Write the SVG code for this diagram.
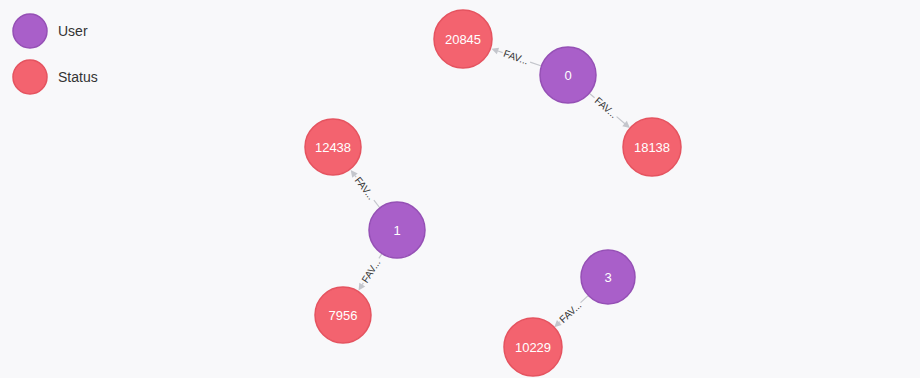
<svg xmlns="http://www.w3.org/2000/svg" width="920" height="378" viewBox="0 0 920 378">
  <style>
    .user { fill: #a95fc9; stroke: #9550b5; stroke-width: 1.5; }
    .status { fill: #f3636f; stroke: #e5535f; stroke-width: 1.5; }
    .nlabel { font-family: "Liberation Sans", Arial, sans-serif; font-size: 13px; fill: #ffffff; text-anchor: middle; dominant-baseline: central; }
    .legend { font-family: "Liberation Sans", Arial, sans-serif; font-size: 14px; fill: #333333; dominant-baseline: central; }
    .edge { stroke: #c4c6cc; stroke-width: 1.2; fill: none; }
    .head { fill: #c4c6cc; }
    .elabel { font-family: "Liberation Sans", Arial, sans-serif; font-size: 10px; fill: #333333; text-anchor: middle; dominant-baseline: central; }
  </style>
  <rect width="920" height="378" fill="#f8f8fa"/>

  <!-- legend -->
  <g id="legend">
    <circle class="user" cx="30" cy="31" r="17"/>
    <text class="legend" x="58" y="31">User</text>
    <circle class="status" cx="30" cy="77" r="17"/>
    <text class="legend" x="58" y="77">Status</text>
  </g>

  <!-- relationships: each drawn along a local x axis, arrow tip at the status node edge -->
  <g id="connectors">
    <g id="e-0-20845" transform="translate(463 39) rotate(19)">
      <path class="head" d="M30 0 L37 -3.5 L37 3.5 Z"/>
      <path class="edge" d="M37 0 H42 M71 0 H83"/>
      <text class="elabel" x="56" y="0">FAV...</text>
    </g>
    <g id="e-0-18138" transform="translate(568 75) rotate(40.6)">
      <path class="edge" d="M28 0 H35 M64 0 H75"/>
      <path class="head" d="M81.5 0 L74.5 -3.5 L74.5 3.5 Z"/>
      <text class="elabel" x="50" y="0">FAV...</text>
    </g>
    <g id="e-1-12438" transform="translate(333 147) rotate(52.4)">
      <path class="head" d="M29 0 L36 -3.5 L36 3.5 Z"/>
      <path class="edge" d="M36 0 H38 M67 0 H77"/>
      <text class="elabel" x="52" y="0">FAV...</text>
    </g>
    <g id="e-1-7956" transform="translate(343 315) rotate(-57.6)">
      <path class="head" d="M29 0 L36 -3.5 L36 3.5 Z"/>
      <path class="edge" d="M36 0 H38 M67 0 H73"/>
      <text class="elabel" x="52" y="0">FAV...</text>
    </g>
    <g id="e-3-10229" transform="translate(533 347) rotate(-43)">
      <path class="head" d="M29 0 L36 -3.5 L36 3.5 Z"/>
      <path class="edge" d="M36 0 H37 M65 0 H75"/>
      <text class="elabel" x="51" y="0">FAV...</text>
    </g>
  </g>

  <!-- nodes -->
  <g id="n-20845"><circle class="status" cx="463" cy="39" r="29"/><text class="nlabel" x="463" y="39">20845</text></g>
  <g id="n-0"><circle class="user" cx="568" cy="75" r="28"/><text class="nlabel" x="568" y="75">0</text></g>
  <g id="n-18138"><circle class="status" cx="652" cy="147" r="29"/><text class="nlabel" x="652" y="147">18138</text></g>
  <g id="n-12438"><circle class="status" cx="333" cy="147" r="28"/><text class="nlabel" x="333" y="147">12438</text></g>
  <g id="n-1"><circle class="user" cx="397" cy="230" r="28"/><text class="nlabel" x="397" y="230">1</text></g>
  <g id="n-7956"><circle class="status" cx="343" cy="315" r="28"/><text class="nlabel" x="343" y="315">7956</text></g>
  <g id="n-3"><circle class="user" cx="608" cy="277" r="27"/><text class="nlabel" x="608" y="277">3</text></g>
  <g id="n-10229"><circle class="status" cx="533" cy="347" r="29"/><text class="nlabel" x="533" y="347">10229</text></g>
</svg>
